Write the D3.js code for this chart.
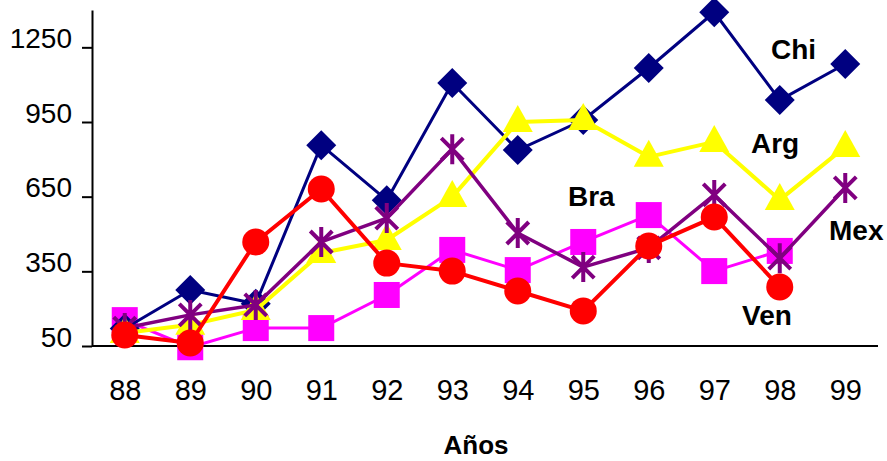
<!DOCTYPE html>
<html>
<head>
<meta charset="utf-8">
<script src="https://cdn.jsdelivr.net/npm/d3@7"></script>
<style>
  body { margin: 0; background: #fff; }
  svg { display: block; }
  text { font-family: "Liberation Sans", Arial, sans-serif; }
</style>
</head>
<body>
<svg width="887" height="461"></svg>
<script>
// data
const years = ["88", "89", "90", "91", "92", "93", "94", "95", "96", "97", "98", "99"];
const yTicks = [50, 350, 650, 950, 1250];
const chi = [120, 275, 220, 857, 636, 1107, 837, 958, 1167, 1391, 1038, 1183];
const arg = [102, 135, 195, 424, 476, 649, 950, 958, 810, 870, 637, 850];
const bra = [154, 45, 122, 122, 255, 436, 355, 468, 576, 351, 432, null];
const mex = [122, 175, 215, 468, 564, 841, 504, 367, 444, 657, 403, 685];
const ven = [94, 62, 468, 681, 383, 351, 271, 191, 452, 568, 287, null];

const series = [
  {name: "Bra", values: bra, color: "#ff00ff", width: 3, marker: "square"},
  {name: "Chi", values: chi, color: "#000080", width: 3, marker: "diamond"},
  {name: "Arg", values: arg, color: "#ffff00", width: 4, marker: "triangle"},
  {name: "Mex", values: mex, color: "#800080", width: 3.5, marker: "star"},
  {name: "Ven", values: ven, color: "#ff0000", width: 4, marker: "circle"}
];

// label placement (pixels)
const labelPos = {Chi: [771, 59], Arg: [751, 153], Bra: [568, 206], Mex: [829, 240], Ven: [742, 325]};

const plotLeft = 92, plotRight = 878, plotTop = 10, plotBottom = 346;

const svg = d3.select("svg");

const x = d3.scalePoint()
  .domain(years)
  .range([plotLeft, plotRight])
  .padding(0.5);

const y = d3.scaleLinear()
  .domain([50, 1400])
  .range([plotBottom, plotTop]);

// Y axis
const yAxis = d3.axisLeft(y)
  .tickValues(yTicks)
  .tickFormat(d3.format("d"))
  .tickSize(10)
  .tickSizeOuter(0)
  .tickPadding(10);

const gy = svg.append("g")
  .attr("transform", `translate(${plotLeft},0)`)
  .call(yAxis);
gy.select(".domain").attr("stroke", "#000").attr("stroke-width", 2);
gy.selectAll(".tick line").attr("stroke", "#000").attr("stroke-width", 2);
gy.selectAll(".tick text")
  .attr("dy", "0")
  .attr("font-size", "28px")
  .attr("fill", "#000");

// X baseline + labels (no tick marks)
const xAxis = d3.axisBottom(x).tickSize(0).tickPadding(32);
const gx = svg.append("g")
  .attr("transform", `translate(0,${plotBottom})`)
  .call(xAxis);
gx.select(".domain").attr("stroke", "#000").attr("stroke-width", 2)
  .attr("d", `M${plotLeft},0H${plotRight}`);
gx.selectAll(".tick text")
  .attr("dy", "0")
  .attr("y", 54)
  .attr("font-size", "29px")
  .attr("fill", "#000");

// axis title
svg.append("text")
  .attr("x", 476)
  .attr("y", 454)
  .attr("text-anchor", "middle")
  .attr("font-size", "26px")
  .attr("font-weight", "bold")
  .text("Años");

const line = d3.line()
  .defined(d => d.v != null)
  .x(d => x(d.year))
  .y(d => y(d.v));

function drawMarker(g, type, color) {
  if (type === "diamond") {
    g.append("path").attr("d", "M0,-15L15,0L0,15L-15,0Z").attr("fill", color);
  } else if (type === "square") {
    g.append("rect").attr("x", -13).attr("y", -13).attr("width", 26).attr("height", 26).attr("fill", color);
  } else if (type === "triangle") {
    g.append("path").attr("d", "M0,-17L15,10L-15,10Z").attr("fill", color);
  } else if (type === "circle") {
    g.append("circle").attr("r", 13.5).attr("fill", color);
  } else if (type === "star") {
    g.append("path")
      .attr("d", "M-11,-11L11,11M-11,11L11,-11M0,-15L0,15")
      .attr("stroke", color).attr("stroke-width", 4).attr("fill", "none");
  }
}

series.forEach(s => {
  const pts = years.map((yr, i) => ({year: yr, v: s.values[i]}));
  const g = svg.append("g");
  g.append("path")
    .datum(pts)
    .attr("fill", "none")
    .attr("stroke", s.color)
    .attr("stroke-width", s.width)
    .attr("stroke-linejoin", "round")
    .attr("d", line);
  g.selectAll(".mk")
    .data(pts.filter(d => d.v != null))
    .enter().append("g")
    .attr("class", "mk")
    .attr("transform", d => `translate(${x(d.year)},${y(d.v)})`)
    .each(function() { drawMarker(d3.select(this), s.marker, s.color); });
});

// series labels
series.forEach(s => {
  svg.append("text")
    .attr("x", labelPos[s.name][0])
    .attr("y", labelPos[s.name][1])
    .attr("font-size", "28px")
    .attr("font-weight", "bold")
    .attr("fill", "#000")
    .text(s.name);
});
</script>
</body>
</html>
